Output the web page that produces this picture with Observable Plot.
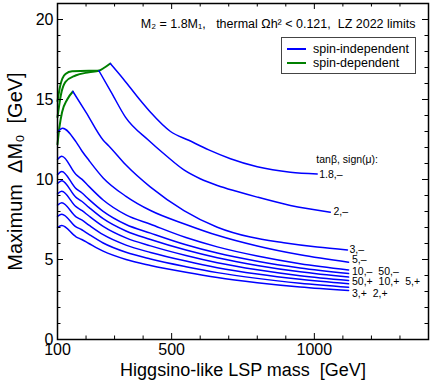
<!DOCTYPE html>
<html><head><meta charset="utf-8">
<script src="https://cdn.jsdelivr.net/npm/d3@7"></script>
<script src="https://cdn.jsdelivr.net/npm/@observablehq/plot@0.6"></script>
<style>
body{margin:0;background:#fff;font-family:"Liberation Sans",Arial,Helvetica,sans-serif;}
#wrap{position:relative;width:432px;height:380px;}
#legend{position:absolute;left:281px;top:37px;width:133px;height:35px;border:1px solid #444;background:#fff;font-size:12.5px;color:#000;}
#legend .row{position:absolute;left:0;height:14px;line-height:14px;}
#legend .sw{position:absolute;left:5px;top:6px;width:19px;height:2px;}
#legend .lab{position:absolute;left:31px;top:0;white-space:nowrap;}
</style></head><body><div id="wrap"></div>
<script>
// ---- data ----
const xMajorTicks = [100, 500, 1000];
const xMinorTicks = [200, 300, 400, 600, 700, 800, 900, 1100, 1200, 1300];
const yMajorTicks = [0, 5, 10, 15, 20];
const yMinorTicks = [1,2,3,4,6,7,8,9,11,12,13,14,16,17,18,19,21];

// spin-dependent (green) segments
const sd18Mass = [100, 112, 128, 163, 210, 245, 265, 285];
const sd18Max  = [13.9, 15.3, 16.1, 16.5, 16.7, 16.8, 17.0, 17.25];
const sd2Mass  = [100, 110, 128, 151, 210, 245];
const sd2Max   = [14.9, 15.9, 16.6, 16.77, 16.8, 16.8];
const sd3Mass  = [100, 107, 116, 134, 154];
const sd3Max   = [12.2, 13.3, 14.2, 15.0, 15.5];

// spin-independent (blue) segments
const si18Mass = [285, 330, 390, 426, 496, 560, 630, 706, 800, 916, 1010];
const si18Max  = [17.25, 16.3, 14.95, 14.2, 13.0, 12.45, 11.85, 11.3, 10.8, 10.46, 10.35];
const si2Mass  = [245, 290, 338, 420, 480, 543, 600, 660, 730, 800, 916, 1056];
const si2Max   = [16.8, 15.4, 13.9, 12.44, 11.5, 10.6, 10.05, 9.63, 9.25, 8.9, 8.38, 7.96];
const si3Mass  = [154, 200, 261, 280, 340, 426, 543, 660, 776, 893, 1010, 1116];
const si3Max   = [15.5, 14.2, 12.44, 12.1, 10.9, 9.52, 8.06, 7.02, 6.4, 6.05, 5.78, 5.6];
const si5Mass  = [100, 118, 165, 185, 210, 260, 340, 426, 550, 660, 800, 950, 1120];
const si5Max   = [12.95, 13.2, 12.35, 11.8, 11.2, 10.1, 8.95, 8.06, 7.19, 6.51, 5.84, 5.29, 4.83];

const lowMass = [100, 115, 165, 185, 210, 260, 340, 426, 550, 660, 800, 950, 1120];
const si10mMax = [11.25, 11.45, 10.31, 10.02, 9.57, 8.72, 7.79, 7.2, 6.37, 5.79, 5.22, 4.74, 4.35];
const si50mMax = [10.3, 10.5, 9.43, 9.17, 8.76, 8.01, 7.19, 6.65, 5.92, 5.4, 4.89, 4.47, 4.12];
const si50pMax = [9.75, 9.92, 8.88, 8.64, 8.26, 7.55, 6.78, 6.25, 5.59, 5.11, 4.63, 4.23, 3.9];
const si10pMax = [9.1, 9.26, 8.3, 8.07, 7.72, 7.07, 6.35, 5.85, 5.25, 4.8, 4.36, 3.99, 3.69];
const si5pMax  = [8.4, 8.55, 7.67, 7.47, 7.15, 6.55, 5.9, 5.44, 4.9, 4.49, 4.09, 3.76, 3.48];
const si3pMax  = [7.7, 7.83, 7.04, 6.86, 6.57, 6.03, 5.45, 5.03, 4.55, 4.18, 3.82, 3.52, 3.27];
const si2pMax  = [7.0, 7.12, 6.42, 6.25, 6.0, 5.52, 5.0, 4.63, 4.2, 3.87, 3.55, 3.28, 3.06];

const labelText = ["tanβ, sign(μ):", "1.8,–", "2,–", "3,–", "5,–",
  "10,–\u00a0\u00a050,–", "50,+\u00a0\u00a010,+\u00a0\u00a05,+", "3,+\u00a0\u00a02,+"];
const labelMass = [1000, 1010, 1060, 1116, 1125, 1125, 1125, 1125];
const labelMax  = [11.25, 10.3, 8.0, 5.62, 4.97, 4.27, 3.6, 2.88];

const titleText = "M₂ = 1.8M₁,\u00a0\u00a0 thermal Ωh² < 0.121,\u00a0 LZ 2022 limits";
const xLabel = "Higgsino-like LSP mass\u00a0 [GeV]";
const yLabel = "Maximum\u00a0 ΔM₀\u00a0 [GeV]";
const legendNames = ["spin-independent", "spin-dependent"];

// ---- build tables ----
const rows = (name, ms, vs) => ms.map((m, i) => ({series: name, mass: m, max: vs[i]}));
const sdRows = [
  ...rows("1.8,–", sd18Mass, sd18Max),
  ...rows("2,–", sd2Mass, sd2Max),
  ...rows("3,–", sd3Mass, sd3Max)
];
const siRows = [
  ...rows("1.8,–", si18Mass, si18Max),
  ...rows("2,–", si2Mass, si2Max),
  ...rows("3,–", si3Mass, si3Max),
  ...rows("5,–", si5Mass, si5Max),
  ...rows("10,–", lowMass, si10mMax),
  ...rows("50,–", lowMass, si50mMax),
  ...rows("50,+", lowMass, si50pMax),
  ...rows("10,+", lowMass, si10pMax),
  ...rows("5,+", lowMass, si5pMax),
  ...rows("3,+", lowMass, si3pMax),
  ...rows("2,+", lowMass, si2pMax)
];
const labels = labelText.map((t, i) => ({label: t, mass: labelMass[i], max: labelMax[i]}));

const W = 432, H = 380, mL = 57, mR = 4, mT = 3, mB = 41;
const pw = W - mL - mR, ph = H - mT - mB;
const BLUE = "#0000ff", GREEN = "#008000";

const chart = Plot.plot({
  width: W, height: H,
  marginLeft: mL, marginRight: mR, marginTop: mT, marginBottom: mB,
  x: {domain: [100, 1400]},
  y: {domain: [0, 21]},
  style: {fontFamily: '"Liberation Sans", Arial, Helvetica, sans-serif', background: "#fff", color: "#000"},
  marks: [
    Plot.line(sdRows, {x: "mass", y: "max", z: "series", stroke: GREEN, strokeWidth: 2, curve: "monotone-x"}),
    Plot.line(siRows, {x: "mass", y: "max", z: "series", stroke: BLUE, strokeWidth: 1.5, curve: "monotone-x"}),
    // inward ticks on all four sides
    Plot.tickX(xMajorTicks, {x: d => d, stroke: "#000", insetTop: ph - 6}),
    Plot.tickX(xMajorTicks, {x: d => d, stroke: "#000", insetBottom: ph - 6}),
    Plot.tickX(xMinorTicks, {x: d => d, stroke: "#000", insetTop: ph - 3.5}),
    Plot.tickX(xMinorTicks, {x: d => d, stroke: "#000", insetBottom: ph - 3.5}),
    Plot.tickY(yMajorTicks, {y: d => d, stroke: "#000", insetRight: pw - 6}),
    Plot.tickY(yMajorTicks, {y: d => d, stroke: "#000", insetLeft: pw - 6}),
    Plot.tickY(yMinorTicks, {y: d => d, stroke: "#000", insetRight: pw - 3.5}),
    Plot.tickY(yMinorTicks, {y: d => d, stroke: "#000", insetLeft: pw - 3.5}),
    Plot.frame({stroke: "#000", strokeWidth: 1.5}),
    Plot.axisX({ticks: xMajorTicks, tickFormat: d => String(d), tickSize: 0, tickPadding: 4, fontSize: 16, label: null}),
    Plot.axisY({ticks: yMajorTicks, tickFormat: d => String(d), tickSize: 0, tickPadding: 4, fontSize: 16, label: null}),
    Plot.text(labels, {x: "mass", y: "max", text: "label", textAnchor: "start", dx: 2, fontSize: 10.5, fill: "#000"}),
    Plot.text([titleText], {text: d => d, frameAnchor: "top-right", textAnchor: "end", lineAnchor: "middle", dx: -13, dy: 20, fontSize: 12.5, fill: "#000"}),
    Plot.text([xLabel], {text: d => d, frameAnchor: "bottom", textAnchor: "middle", lineAnchor: "middle", dy: 31, fontSize: 18, fill: "#000"}),
    Plot.text([yLabel], {text: d => d, frameAnchor: "left", rotate: -90, textAnchor: "middle", lineAnchor: "middle", dx: -42, fontSize: 20, fill: "#000"})
  ]
});

const wrap = document.getElementById("wrap");
wrap.appendChild(chart);

// legend overlay inside the plot
const leg = document.createElement("div");
leg.id = "legend";
[BLUE, GREEN].forEach((c, i) => {
  const row = document.createElement("div");
  row.className = "row";
  row.style.top = (4 + i * 14) + "px";
  row.innerHTML = `<div class="sw" style="background:${c}"></div><span class="lab">${legendNames[i]}</span>`;
  leg.appendChild(row);
});
wrap.appendChild(leg);
</script></body></html>
